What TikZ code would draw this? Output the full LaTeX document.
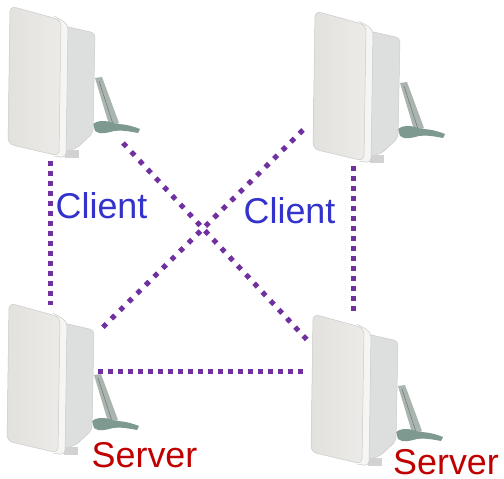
\documentclass[tikz,border=0pt]{standalone}
\usepackage{fontspec}
\setmainfont{Liberation Sans}
\definecolor{linkpurple}{HTML}{7030A0}
\definecolor{clientblue}{HTML}{3333CC}
\definecolor{serverred}{HTML}{C00000}
\definecolor{faceA}{HTML}{E3E1DE}
\definecolor{faceB}{HTML}{EDEBE8}
\definecolor{rimc}{HTML}{F5F5F3}
\definecolor{sidec}{HTML}{DDDFDF}
\definecolor{armc}{HTML}{A9B5AE}
\definecolor{footc}{HTML}{7E9990}
\definecolor{edgec}{HTML}{CACAC8}
\tikzset{
  link/.style={linkpurple, line width=5bp, dash pattern=on 5bp off 5bp},
  diaglink/.style={linkpurple, line width=5bp, dash pattern=on 5bp off 7bp},
  clientlabel/.style={clientblue, font=\fontsize{36}{36}\selectfont, inner sep=0pt, anchor=base west},
  serverlabel/.style={serverred, font=\fontsize{36}{36}\selectfont, inner sep=0pt, anchor=base west},
  pics/antenna/.style={code={
    % bracket arm
    \fill[armc] (95,78) -- (102,77) -- (119,123) -- (110,128) -- cycle;
    \draw[armc!70!black, line width=0.6bp] (99,81) -- (113,124);
    % foot
    \fill[footc] (93,124) .. controls (100,119) and (108,121) .. (116,124)
      .. controls (125,124) and (132,126) .. (140,129) -- (138,133)
      .. controls (128,131) and (120,130) .. (114,131)
      .. controls (106,133) and (100,135) .. (95,131) -- cycle;
    % side box
    \fill[sidec, rounded corners=4bp] (64,26) -- (95,33) -- (93,133) -- (77,148) -- (64,152) -- cycle;
    \draw[edgec, line width=0.5bp, rounded corners=4bp] (64,26) -- (95,33) -- (93,133) -- (77,148) -- (64,152);
    % connector
    \fill[gray!35] (65,150) rectangle (79,158);
    % rim
    \fill[rimc, rounded corners=5bp] (54,16) -- (68,24) -- (66,158) -- (54,156) -- cycle;
    \draw[edgec, line width=0.5bp, rounded corners=5bp] (54,16) -- (68,24) -- (66,158) -- (54,156);
    % face
    \shade[left color=faceA, right color=faceB, rounded corners=6bp]
      (10,6) -- (61,20) -- (59,156) -- (8,144) -- cycle;
    \draw[edgec, line width=0.5bp, rounded corners=6bp]
      (10,6) -- (61,20) -- (59,156) -- (8,144) -- cycle;
  }}
}
\begin{document}
\begin{tikzpicture}[x=1bp, y=-1bp]
\useasboundingbox (0,0) rectangle (504,479);
\fill[white] (0,0) rectangle (504,479);
% connector end points
\coordinate (lvTop) at (50,161);
\coordinate (lvBot) at (50,305);
\coordinate (rvTop) at (353,166);
\coordinate (rvBot) at (353,313);
\coordinate (d1a) at (123,143);
\coordinate (d1b) at (310,343);
\coordinate (d2a) at (303,130);
\coordinate (d2b) at (98,332);
\coordinate (hA) at (98,371);
\coordinate (hB) at (308,371);
% links
\draw[link] (lvTop) -- (lvBot);
\draw[link] (rvTop) -- (rvBot);
\draw[link] (hA) -- (hB);
\draw[diaglink] (d1a) -- (d1b);
\draw[diaglink] (d2a) -- (d2b);
% antennas
\pic (ant1) at (0,0) {antenna};
\pic (ant2) at (305,5) {antenna};
\pic (ant3) at (-1,297) {antenna};
\pic (ant4) at (303,308) {antenna};
% labels
\node[clientlabel] (client1) at (55.5,218) {Client};
\node[clientlabel] (client2) at (243.5,223) {Client};
\node[serverlabel] (server1) at (91.5,467) {Server};
\node[serverlabel] (server2) at (393,474) {Server};
\end{tikzpicture}
\end{document}
